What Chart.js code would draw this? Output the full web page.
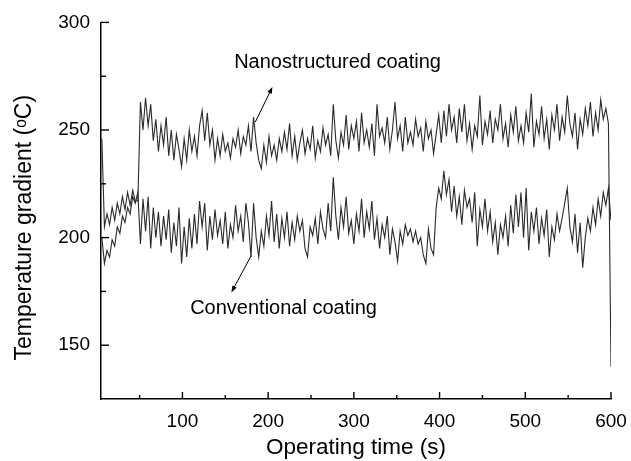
<!DOCTYPE html>
<html>
<head>
<meta charset="utf-8">
<script src="https://cdn.jsdelivr.net/npm/chart.js@4.4.0/dist/chart.umd.min.js"></script>
<style>
  body { margin: 0; background: #fff; }
  #wrap { width: 631px; height: 461px; }
</style>
</head>
<body>
<div id="wrap"><canvas id="grafico" width="631" height="461"></canvas></div>
<script>
// sampling of the recorder (s)
const sampleStart = 6;
const sampleStep = 3;

// temperature gradient (°C), one value per sample
const nanoValues = [
  246, 205, 211, 206, 214, 208, 216, 211, 219, 213, 221, 215, 222, 217,
  217,
  263, 250, 265, 252, 262, 245, 255, 240, 252,
  243, 256, 238, 250, 236, 248, 241, 233, 246, 236, 250, 240,
  247, 238, 252, 259, 245, 258, 243, 250, 236, 246,
  238, 248, 240, 244, 237, 246, 242, 250, 239, 247, 243, 252, 240,
  256, 244, 236, 232, 243, 235, 247, 238, 243, 236, 246, 240, 249,
  241, 253, 238, 247, 236, 244, 250, 239, 246, 241, 252, 237, 245,
  240, 251, 243, 248, 238, 262, 245, 237, 249, 243, 257, 241, 252,
  246, 254, 240, 258, 244, 250, 242, 253, 238, 262, 247, 251, 244,
  256, 241, 250, 263, 246, 252, 240, 256, 244, 249, 243, 255, 247,
  251, 240, 254, 246, 250, 239, 248, 257, 244, 259, 247, 262, 250,
  256, 244, 260, 249, 262, 245, 253, 241, 252, 247, 266, 243, 254,
  248, 259, 244, 255, 250, 262, 246, 253, 242, 257, 249, 261, 245,
  252, 244, 258, 249, 267, 242, 254, 248, 261, 246, 255, 241, 257,
  250, 262, 245, 256, 249, 266, 253, 247, 258, 241, 255, 248, 260,
  252, 263, 247, 258, 250, 264, 255, 260, 253, 140
];

const convValues = [
  200, 188, 194, 191, 199, 196, 205, 202, 210, 207, 214, 211, 219, 216,
  221,
  197, 218, 203, 219, 195, 214, 200, 212, 196,
  210, 199, 213, 193, 207, 196, 214, 188, 205, 191, 209, 195,
  211, 197, 217, 205, 216, 194, 210, 199, 213, 201,
  208, 197, 212, 195, 206, 200, 215, 203, 210, 198, 216, 207, 191,
  216, 200, 191, 203, 196, 210, 201, 217, 198, 211, 195, 209, 200,
  212, 196, 207, 199, 210, 203, 208, 195, 191, 205, 201, 209, 197,
  212, 204, 200, 216, 203, 228, 210, 199, 214, 205, 219, 202, 208,
  197, 211, 203, 218, 200, 212, 204, 217, 199, 209, 195, 206, 200,
  210, 192, 204, 198, 189, 203, 197, 206, 201, 204, 198, 203, 197,
  200, 192, 188, 204, 195, 192, 214, 223, 218, 231, 220, 227, 212,
  224, 210, 219, 206, 222, 214, 218, 207, 221, 196, 213, 205, 218,
  203, 212, 198, 207, 192, 206, 200, 210, 196, 215, 202, 220, 205,
  221, 200, 223, 194, 212, 203, 214, 197, 209, 201, 213, 191, 205,
  199, 211, 203, 209, 216, 223, 205, 198, 211, 193, 207, 186, 200,
  209, 203, 214, 206, 218, 210, 221, 215, 223, 208
];

if (nanoValues.length !== convValues.length) {
  throw new Error('series lengths differ: ' + nanoValues.length + ' / ' + convValues.length);
}

const xTicks = [100, 200, 300, 400, 500, 600];
const xMinorTicks = [50, 150, 250, 350, 450, 550];
const yTicks = [150, 200, 250, 300];
const yMinorTicks = [175, 225, 275];

// labels with their arrows, in data units
const notas = [
  { texto: 'Nanostructured coating', x: 281, y: 279, de: [185, 253.7], para: [205, 270] },
  { texto: 'Conventional coating', x: 218, y: 164.3, de: [180.4, 191.7], para: [157.1, 174.5] }
];

const tituloY = 'Temperature gradient (ᵒC)';
const fonte = '"Liberation Sans", Arial, sans-serif';

function pontos(valores) {
  return valores.map((v, i) => ({ x: sampleStart + sampleStep * i, y: v }));
}

function desenharSeta(ctx, x0, y0, x1, y1) {
  const ang = Math.atan2(y1 - y0, x1 - x0);
  const tam = 7;
  ctx.beginPath();
  ctx.moveTo(x0, y0);
  ctx.lineTo(x1 - Math.cos(ang) * 3, y1 - Math.sin(ang) * 3);
  ctx.stroke();
  ctx.beginPath();
  ctx.moveTo(x1, y1);
  ctx.lineTo(x1 - tam * Math.cos(ang - 0.35), y1 - tam * Math.sin(ang - 0.35));
  ctx.lineTo(x1 - tam * Math.cos(ang + 0.35), y1 - tam * Math.sin(ang + 0.35));
  ctx.closePath();
  ctx.fill();
}

const extras = {
  id: 'extras',
  afterDraw(chart) {
    const ctx = chart.ctx;
    const x = chart.scales.x;
    const y = chart.scales.y;
    const area = chart.chartArea;
    ctx.save();
    ctx.strokeStyle = '#000';
    ctx.lineWidth = 1.4;

    // ticks pointing into the plot
    xTicks.forEach(v => {
      const px = x.getPixelForValue(v);
      ctx.beginPath(); ctx.moveTo(px, y.bottom); ctx.lineTo(px, y.bottom - 7); ctx.stroke();
    });
    xMinorTicks.forEach(v => {
      const px = x.getPixelForValue(v);
      ctx.beginPath(); ctx.moveTo(px, y.bottom); ctx.lineTo(px, y.bottom - 4); ctx.stroke();
    });
    yTicks.forEach(v => {
      const py = y.getPixelForValue(v);
      ctx.beginPath(); ctx.moveTo(x.left, py); ctx.lineTo(x.left + 8, py); ctx.stroke();
    });
    yMinorTicks.forEach(v => {
      const py = y.getPixelForValue(v);
      ctx.beginPath(); ctx.moveTo(x.left, py); ctx.lineTo(x.left + 5, py); ctx.stroke();
    });

    // y title, a bit below the middle like the original
    ctx.fillStyle = '#000';
    ctx.font = '23px ' + fonte;
    ctx.textAlign = 'center';
    ctx.textBaseline = 'middle';
    ctx.translate(25, (area.top + area.bottom) / 2 + 17);
    ctx.rotate(-Math.PI / 2);
    ctx.fillText(tituloY, 0, 0);
    ctx.setTransform(1, 0, 0, 1, 0, 0);

    // labels + arrows
    ctx.lineWidth = 1;
    ctx.font = '20px ' + fonte;
    ctx.textBaseline = 'alphabetic';
    notas.forEach(n => {
      ctx.fillText(n.texto, x.getPixelForValue(n.x), y.getPixelForValue(n.y));
      desenharSeta(ctx,
        x.getPixelForValue(n.de[0]), y.getPixelForValue(n.de[1]),
        x.getPixelForValue(n.para[0]), y.getPixelForValue(n.para[1]));
    });
    ctx.restore();
  }
};

new Chart(document.getElementById('grafico'), {
  type: 'line',
  data: {
    datasets: [
      {
        label: 'Nanostructured coating',
        data: pontos(nanoValues),
        borderColor: '#2a2a2a',
        borderWidth: 1.1,
        pointRadius: 0,
        tension: 0,
        fill: false
      },
      {
        label: 'Conventional coating',
        data: pontos(convValues),
        borderColor: '#2a2a2a',
        borderWidth: 1.1,
        pointRadius: 0,
        tension: 0,
        fill: false
      }
    ]
  },
  options: {
    responsive: false,
    animation: false,
    layout: { padding: { top: 22, right: 20, left: 0, bottom: 0 } },
    plugins: {
      legend: { display: false },
      tooltip: { enabled: false }
    },
    scales: {
      x: {
        type: 'linear',
        min: 5,
        max: 600,
        afterBuildTicks: s => { s.ticks = xTicks.map(v => ({ value: v })); },
        afterFit: s => { s.height = 62; s.paddingRight = 20; s.paddingLeft = 0; },
        grid: { display: false, drawTicks: false },
        border: { display: true, color: '#000', width: 1.5 },
        ticks: { color: '#000', padding: 11, maxRotation: 0, font: { family: fonte, size: 19 } },
        title: {
          display: true,
          text: 'Operating time (s)',
          color: '#000',
          padding: { top: 0, bottom: 0 },
          font: { family: fonte, size: 22.5 }
        }
      },
      y: {
        type: 'linear',
        min: 125,
        max: 300,
        afterBuildTicks: s => { s.ticks = yTicks.map(v => ({ value: v })); },
        afterFit: s => { s.width = 101; },
        grid: { display: false, drawTicks: false },
        border: { display: true, color: '#000', width: 1.5 },
        ticks: { color: '#000', padding: 11, font: { family: fonte, size: 19 } },
        title: { display: false }
      }
    }
  },
  plugins: [extras]
});
</script>
</body>
</html>
